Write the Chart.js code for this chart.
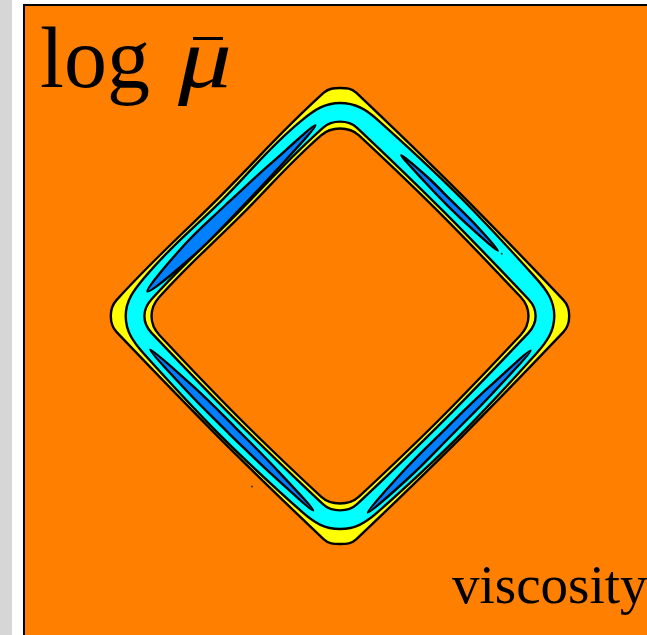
<!DOCTYPE html>
<html>
<head>
<meta charset="utf-8">
<script src="https://cdn.jsdelivr.net/npm/chart.js@4"></script>
<style>
  html, body { margin: 0; padding: 0; width: 647px; height: 635px; overflow: hidden; background: #fff; }
  #strip { position: absolute; left: 0; top: 0; width: 12px; height: 635px; background: #d6d6d6; }
  #frame { position: absolute; left: 23px; top: 4px; width: 660px; height: 660px; border-left: 2px solid #000; border-top: 2px solid #000; background: #ff8000; }
  #frame canvas { position: absolute; left: 0; top: 0; }
  .lbl { position: absolute; font-family: "Liberation Serif", serif; color: #000; line-height: 1; white-space: nowrap; }
  .mu { font-style: italic; transform: scaleX(1.25); transform-origin: left top; }
  .bar { position: absolute; left: 193px; top: 37px; width: 30px; height: 3px; background: #000; }
</style>
</head>
<body>
<div id="strip"></div>
<div id="frame">
  <canvas id="viscChart" width="630" height="630"></canvas>
</div>
<div class="lbl" style="left:40px; top:15px; font-size:86px;">log</div>
<div class="lbl mu" style="left:178px; top:15px; font-size:86px;">&#956;</div>
<div class="bar"></div>
<div class="lbl" style="left:452px; top:557px; font-size:55px;">viscosity</div>
<script>
// contour rings of log(mu), outermost first (x, y in domain units)
const ringOuter = [[-0.385,0.385],[-0.718,0.052],[-0.737,0],[-0.718,-0.052],[-0.052,-0.718],[0,-0.733],[0.052,-0.718],[0.718,-0.052],[0.737,0],[0.718,0.052],[0.052,0.718],[0,0.733],[-0.052,0.718],[-0.385,0.385]];
const ringBandOuter = [[-0.376,0.376],[-0.630,0.122],[-0.689,0],[-0.630,-0.122],[-0.122,-0.630],[0,-0.685],[0.122,-0.630],[0.630,-0.122],[0.689,0],[0.630,0.122],[0.122,0.630],[0,0.685],[-0.122,0.630],[-0.376,0.376]];
const ringBandInner = [[-0.330,0.330],[-0.606,0.054],[-0.629,0],[-0.606,-0.054],[-0.054,-0.606],[0,-0.625],[0.054,-0.606],[0.606,-0.054],[0.629,0],[0.606,0.054],[0.054,0.606],[0,0.625],[-0.054,0.606],[-0.330,0.330]];
const ringInner = [[-0.321,0.321],[-0.581,0.061],[-0.606,0],[-0.581,-0.061],[-0.061,-0.581],[0,-0.603],[0.061,-0.581],[0.581,-0.061],[0.606,0],[0.581,0.061],[0.061,0.581],[0,0.603],[-0.061,0.581],[-0.321,0.321]];

// lowest-viscosity streaks along each side
const streakNW = [[-0.364,0.361],[-0.224,0.489],[-0.079,0.613],[-0.204,0.469],[-0.334,0.331],[-0.468,0.197],[-0.619,0.079],[-0.500,0.229],[-0.364,0.361]];
const streakNE = [[0.359,0.370],[0.436,0.293],[0.508,0.210],[0.424,0.281],[0.345,0.356],[0.269,0.435],[0.197,0.517],[0.281,0.447],[0.359,0.370]];
const streakSW = [[-0.358,-0.377],[-0.225,-0.504],[-0.086,-0.625],[-0.209,-0.488],[-0.338,-0.357],[-0.470,-0.228],[-0.610,-0.108],[-0.488,-0.246],[-0.358,-0.377]];
const streakSE = [[0.361,-0.381],[0.230,-0.512],[0.089,-0.632],[0.210,-0.492],[0.341,-0.361],[0.474,-0.233],[0.613,-0.111],[0.490,-0.249],[0.361,-0.381]];

const specks = [[-0.283,-0.548],[0.520,0.200]];

const ringColors = ['#ffff00', '#00ffff', '#ffff00', '#ff8000'];
const streakColor = '#0080ff';

const toPoints = arr => arr.map(([x, y]) => ({ x, y }));

function contourSet(arr, color, order) {
  return {
    data: toPoints(arr),
    showLine: true,
    fill: 'shape',
    backgroundColor: color,
    borderColor: '#000',
    borderWidth: 2.4,
    tension: 0.4,
    pointRadius: 0,
    order: order
  };
}

const datasets = [];
[ringOuter, ringBandOuter, ringBandInner, ringInner].forEach((ring, i) => {
  datasets.push(contourSet(ring, ringColors[i], 10 - i));
});
[streakNW, streakNE, streakSW, streakSE].forEach(s => {
  datasets.push(contourSet(s, streakColor, 2));
});
datasets.push({
  data: toPoints(specks),
  pointRadius: 1,
  pointBackgroundColor: '#333',
  pointBorderWidth: 0,
  order: 0
});

new Chart(document.getElementById('viscChart'), {
  type: 'scatter',
  data: { datasets },
  options: {
    responsive: false,
    animation: false,
    layout: { padding: 0 },
    plugins: {
      legend: { display: false },
      tooltip: { enabled: false }
    },
    scales: {
      x: { type: 'linear', min: -1, max: 1, display: false },
      y: { type: 'linear', min: -1.016, max: 0.984, display: false }
    }
  }
});
</script>
</body>
</html>
